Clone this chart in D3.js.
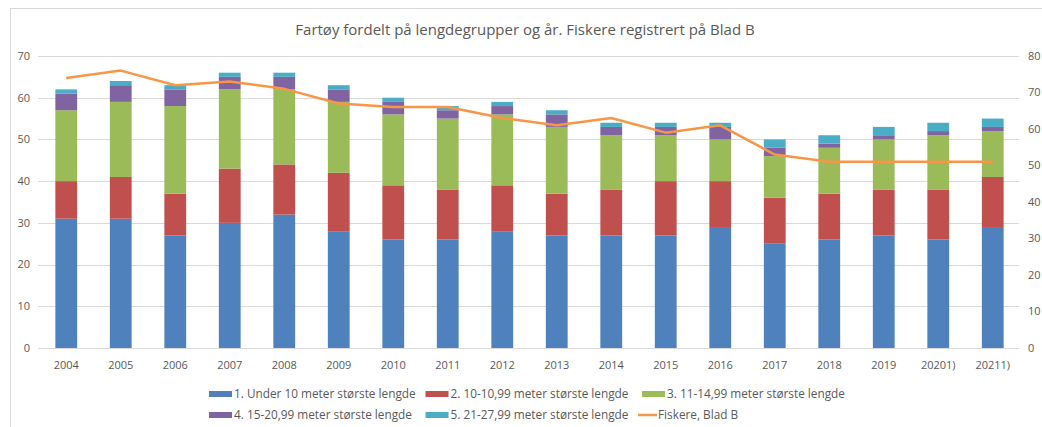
<!DOCTYPE html>
<html>
<head>
<meta charset="utf-8">
<script src="https://cdn.jsdelivr.net/npm/d3@7"></script>
<style>
  body { margin: 0; background: #fff; }
  svg text { font-family: "Open Sans", sans-serif; fill: #595959; }
</style>
</head>
<body>
<svg id="chart" width="1042" height="427"></svg>
<script>
// years on the x axis
var years = ["2004", "2005", "2006", "2007", "2008", "2009", "2010", "2011", "2012",
             "2013", "2014", "2015", "2016", "2017", "2018", "2019", "20201)", "20211)"];

// vessels per length group (left axis)
var under10   = [31, 31, 27, 30, 32, 28, 26, 26, 28, 27, 27, 27, 29, 25, 26, 27, 26, 29];
var m10_1099  = [ 9, 10, 10, 13, 12, 14, 13, 12, 11, 10, 11, 13, 11, 11, 11, 11, 12, 12];
var m11_1499  = [17, 18, 21, 19, 18, 17, 17, 17, 17, 16, 13, 11, 10, 10, 11, 12, 13, 11];
var m15_2099  = [ 4,  4,  4,  3,  3,  3,  3,  2,  2,  3,  2,  2,  3,  2,  1,  1,  1,  1];
var m21_2799  = [ 1,  1,  1,  1,  1,  1,  1,  1,  1,  1,  1,  1,  1,  2,  2,  2,  2,  2];

// fishers on Blad B (right axis)
var fiskere   = [74, 76, 72, 73, 71, 67, 66, 66, 63, 61, 63, 59, 61, 53, 51, 51, 51, 51];

var leftTicks  = [0, 10, 20, 30, 40, 50, 60, 70];
var rightTicks = [0, 10, 20, 30, 40, 50, 60, 70, 80];

var seriesNames = ["1. Under 10 meter største lengde", "2. 10-10,99 meter største lengde",
                   "3. 11-14,99 meter største lengde", "4. 15-20,99 meter største lengde",
                   "5. 21-27,99 meter største lengde"];
var lineName = "Fiskere, Blad B";
var colors = ["#4f81bd", "#c0504d", "#9bbb59", "#8064a2", "#4bacc6"];
var lineColor = "#f79646";

var svg = d3.select("#chart");

// chart border
svg.append("rect")
    .attr("x", 10.5).attr("y", 8.5)
    .attr("width", 1040).attr("height", 430)
    .attr("fill", "none").attr("stroke", "#d9d9d9");

var x = d3.scaleBand().domain(years).range([39, 1020]).paddingInner(0.6).paddingOuter(0.3);
var yL = d3.scaleLinear().domain([0, 70]).range([348, 56]);
var yR = d3.scaleLinear().domain([0, 80]).range([348, 56]);

// gridlines
svg.append("g").selectAll("line")
    .data(leftTicks)
    .enter().append("line")
    .attr("x1", 38).attr("x2", 1019)
    .attr("y1", function(d){ return Math.round(yL(d)) + 0.5; })
    .attr("y2", function(d){ return Math.round(yL(d)) + 0.5; })
    .attr("stroke", "#d9d9d9").attr("stroke-width", 1);

// left axis labels
svg.append("g").selectAll("text")
    .data(leftTicks)
    .enter().append("text")
    .attr("x", 30).attr("y", function(d){ return yL(d); })
    .attr("dy", "0.35em")
    .attr("text-anchor", "end")
    .style("font-size", "11px")
    .text(function(d){ return d; });

// right axis labels
svg.append("g").selectAll("text")
    .data(rightTicks)
    .enter().append("text")
    .attr("x", 1028).attr("y", function(d){ return yR(d); })
    .attr("dy", "0.35em")
    .style("font-size", "11px")
    .text(function(d){ return d; });

// x labels
svg.append("g").selectAll("text")
    .data(years)
    .enter().append("text")
    .attr("x", function(d){ return x(d) + x.bandwidth() / 2; })
    .attr("y", 365).attr("dy", "0.35em")
    .attr("text-anchor", "middle")
    .style("font-size", "11px")
    .text(function(d){ return d; });

// stacked bars
var rows = years.map(function(yr, i){
    return {year: yr, s0: under10[i], s1: m10_1099[i], s2: m11_1499[i], s3: m15_2099[i], s4: m21_2799[i]};
});
var stack = d3.stack().keys(["s0", "s1", "s2", "s3", "s4"])(rows);

svg.append("g").selectAll("g")
    .data(stack)
    .enter().append("g")
    .attr("fill", function(d, i){ return colors[i]; })
    .selectAll("rect")
    .data(function(d){ return d; })
    .enter().append("rect")
    .attr("x", function(d){ return x(d.data.year); })
    .attr("width", x.bandwidth())
    .attr("y", function(d){ return yL(d[1]); })
    .attr("height", function(d){ return yL(d[0]) - yL(d[1]); });

// fishers line
var line = d3.line()
    .x(function(d, i){ return x(years[i]) + x.bandwidth() / 2; })
    .y(function(d){ return yR(d); });

svg.append("path")
    .datum(fiskere)
    .attr("d", line)
    .attr("fill", "none")
    .attr("stroke", lineColor)
    .attr("stroke-width", 2.5)
    .attr("stroke-linejoin", "round");

// title
svg.append("text")
    .attr("x", 525).attr("y", 30).attr("dy", "0.35em")
    .attr("text-anchor", "middle")
    .style("font-size", "15px")
    .text("Fartøy fordelt på lengdegrupper og år. Fiskere registrert på Blad B");

// legend, 3 columns x 2 rows
var legendItems = seriesNames.map(function(n, i){ return {name: n, color: colors[i], type: "bar"}; });
legendItems.push({name: lineName, color: lineColor, type: "line"});

var leg = svg.append("g").selectAll("g")
    .data(legendItems)
    .enter().append("g")
    .attr("transform", function(d, i){
        return "translate(" + (209 + (i % 3) * 216.5) + "," + (i < 3 ? 394 : 415) + ")";
    });

leg.filter(function(d){ return d.type == "bar"; })
    .append("rect")
    .attr("x", 0).attr("y", -3)
    .attr("width", 23).attr("height", 6)
    .attr("fill", function(d){ return d.color; });

leg.filter(function(d){ return d.type == "line"; })
    .append("line")
    .attr("x1", -4).attr("x2", 15)
    .attr("y1", 0).attr("y2", 0)
    .attr("stroke", function(d){ return d.color; })
    .attr("stroke-width", 2.5);

leg.append("text")
    .attr("x", function(d){ return d.type == "bar" ? 25 : 16; })
    .attr("dy", "0.35em")
    .style("font-size", "11.8px")
    .text(function(d){ return d.name; });
</script>
</body>
</html>
